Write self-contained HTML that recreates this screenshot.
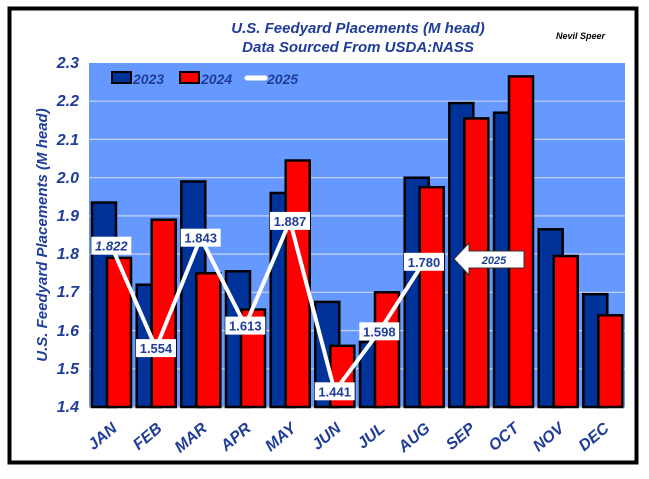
<!DOCTYPE html>
<html><head><meta charset="utf-8"><style>
html,body{margin:0;padding:0;background:#fff;}
svg{display:block;font-family:"Liberation Sans",Arial,sans-serif;}
</style></head><body>
<svg width="649" height="479" viewBox="0 0 649 479" xmlns="http://www.w3.org/2000/svg">
<rect x="0" y="0" width="649" height="479" fill="#fff"/>
<rect x="9.5" y="8.5" width="627" height="454" fill="#fff" stroke="#000" stroke-width="4"/>
<text x="358" y="33" text-anchor="middle" font-size="15" font-weight="bold" font-style="italic" fill="#1f3c99">U.S. Feedyard Placements (M head)</text>
<text x="358" y="52" text-anchor="middle" font-size="15" font-weight="bold" font-style="italic" fill="#1f3c99">Data Sourced From USDA:NASS</text>
<text x="556" y="39" font-size="9" font-weight="bold" font-style="italic" fill="#000">Nevil Speer</text>
<rect x="89" y="63" width="536" height="344" fill="#6699ff"/>
<g stroke="#c8d4f0" stroke-width="1.2">
<line x1="89" y1="101.2" x2="625" y2="101.2"/><line x1="89" y1="139.4" x2="625" y2="139.4"/>
<line x1="89" y1="177.7" x2="625" y2="177.7"/><line x1="89" y1="215.9" x2="625" y2="215.9"/>
<line x1="89" y1="254.1" x2="625" y2="254.1"/><line x1="89" y1="292.3" x2="625" y2="292.3"/>
<line x1="89" y1="330.6" x2="625" y2="330.6"/><line x1="89" y1="368.8" x2="625" y2="368.8"/>
</g>
<line x1="89" y1="407" x2="625" y2="407" stroke="#bbb" stroke-width="1.5"/>
<g font-size="16" font-weight="bold" font-style="italic" fill="#1f3c99" text-anchor="end">
<text x="79" y="412">1.4</text><text x="79" y="374">1.5</text><text x="79" y="336">1.6</text><text x="79" y="297">1.7</text><text x="79" y="259">1.8</text><text x="79" y="221">1.9</text><text x="79" y="183">2.0</text><text x="79" y="145">2.1</text><text x="79" y="106">2.2</text><text x="79" y="68">2.3</text>
</g>
<text transform="translate(47,235) rotate(-90)" text-anchor="middle" font-size="15" font-weight="bold" font-style="italic" fill="#1f3c99">U.S. Feedyard Placements (M head)</text>
<g stroke="#000" stroke-width="2.5">
<rect x="92.0" y="202.5" width="24" height="204.5" fill="#003399"/>
<rect x="107.0" y="257.9" width="24" height="149.1" fill="#ff0000"/>
<rect x="136.7" y="284.7" width="24" height="122.3" fill="#003399"/>
<rect x="151.7" y="219.7" width="24" height="187.3" fill="#ff0000"/>
<rect x="181.3" y="181.5" width="24" height="225.5" fill="#003399"/>
<rect x="196.3" y="273.2" width="24" height="133.8" fill="#ff0000"/>
<rect x="226.0" y="271.3" width="24" height="135.7" fill="#003399"/>
<rect x="241.0" y="309.5" width="24" height="97.5" fill="#ff0000"/>
<rect x="270.7" y="193.0" width="24" height="214.0" fill="#003399"/>
<rect x="285.7" y="160.5" width="24" height="246.5" fill="#ff0000"/>
<rect x="315.3" y="301.9" width="24" height="105.1" fill="#003399"/>
<rect x="330.3" y="345.8" width="24" height="61.2" fill="#ff0000"/>
<rect x="360.0" y="342.0" width="24" height="65.0" fill="#003399"/>
<rect x="375.0" y="292.3" width="24" height="114.7" fill="#ff0000"/>
<rect x="404.7" y="177.7" width="24" height="229.3" fill="#003399"/>
<rect x="419.7" y="187.2" width="24" height="219.8" fill="#ff0000"/>
<rect x="449.3" y="103.1" width="24" height="303.9" fill="#003399"/>
<rect x="464.3" y="118.4" width="24" height="288.6" fill="#ff0000"/>
<rect x="494.0" y="112.7" width="24" height="294.3" fill="#003399"/>
<rect x="509.0" y="76.4" width="24" height="330.6" fill="#ff0000"/>
<rect x="538.7" y="229.3" width="24" height="177.7" fill="#003399"/>
<rect x="553.7" y="256.0" width="24" height="151.0" fill="#ff0000"/>
<rect x="583.3" y="294.2" width="24" height="112.8" fill="#003399"/>
<rect x="598.3" y="315.3" width="24" height="91.7" fill="#ff0000"/>
</g>
<polyline points="111.3,245.7 156.0,348.1 200.7,237.7 245.3,325.6 290.0,220.9 334.7,391.3 379.3,331.3 424.0,261.8" fill="none" stroke="#fff" stroke-width="4"/>
<g font-size="13" font-weight="bold" fill="#1f3c99" text-anchor="middle">
<rect x="91.3" y="236.7" width="40" height="18" fill="#fff"/><text x="111.3" y="250.7" font-style="italic">1.822</text>
<rect x="136" y="339.1" width="40" height="18" fill="#fff"/><text x="156" y="353.1">1.554</text>
<rect x="180.7" y="228.7" width="40" height="18" fill="#fff"/><text x="200.7" y="242.7">1.843</text>
<rect x="225.3" y="316.6" width="40" height="18" fill="#fff"/><text x="245.3" y="330.6">1.613</text>
<rect x="270" y="211.9" width="40" height="18" fill="#fff"/><text x="290" y="225.9">1.887</text>
<rect x="314.7" y="382.3" width="40" height="18" fill="#fff"/><text x="334.7" y="396.3">1.441</text>
<rect x="359.3" y="322.3" width="40" height="18" fill="#fff"/><text x="379.3" y="336.3">1.598</text>
<rect x="404" y="252.8" width="40" height="18" fill="#fff"/><text x="424" y="266.8">1.780</text>
</g>
<g font-size="16" font-weight="bold" font-style="italic" fill="#1f3c99" text-anchor="end">
<text transform="translate(118,430) rotate(-40)">JAN</text>
<text transform="translate(163,430) rotate(-40)">FEB</text>
<text transform="translate(208,430) rotate(-40)">MAR</text>
<text transform="translate(252,430) rotate(-40)">APR</text>
<text transform="translate(297,430) rotate(-40)">MAY</text>
<text transform="translate(342,430) rotate(-40)">JUN</text>
<text transform="translate(386,430) rotate(-40)">JUL</text>
<text transform="translate(431,430) rotate(-40)">AUG</text>
<text transform="translate(476,430) rotate(-40)">SEP</text>
<text transform="translate(520,430) rotate(-40)">OCT</text>
<text transform="translate(565,430) rotate(-40)">NOV</text>
<text transform="translate(610,430) rotate(-40)">DEC</text>
</g>
<rect x="112" y="72" width="19" height="11" fill="#003399" stroke="#000" stroke-width="2"/>
<text x="133" y="84" font-size="14" font-weight="bold" font-style="italic" fill="#1f3c99">2023</text>
<rect x="180" y="72" width="19" height="11" fill="#ff0000" stroke="#000" stroke-width="2"/>
<text x="201" y="84" font-size="14" font-weight="bold" font-style="italic" fill="#1f3c99">2024</text>
<line x1="247" y1="78" x2="265" y2="78" stroke="#fff" stroke-width="5" stroke-linecap="round"/>
<text x="267" y="84" font-size="14" font-weight="bold" font-style="italic" fill="#1f3c99">2025</text>
<polygon points="454,259 469,243 469,251 524,251 524,268 469,268 469,275" fill="#fff" stroke="#333" stroke-width="1"/>
<text x="494" y="264" text-anchor="middle" font-size="11" font-weight="bold" font-style="italic" fill="#1f3c99">2025</text>
</svg>
</body></html>
